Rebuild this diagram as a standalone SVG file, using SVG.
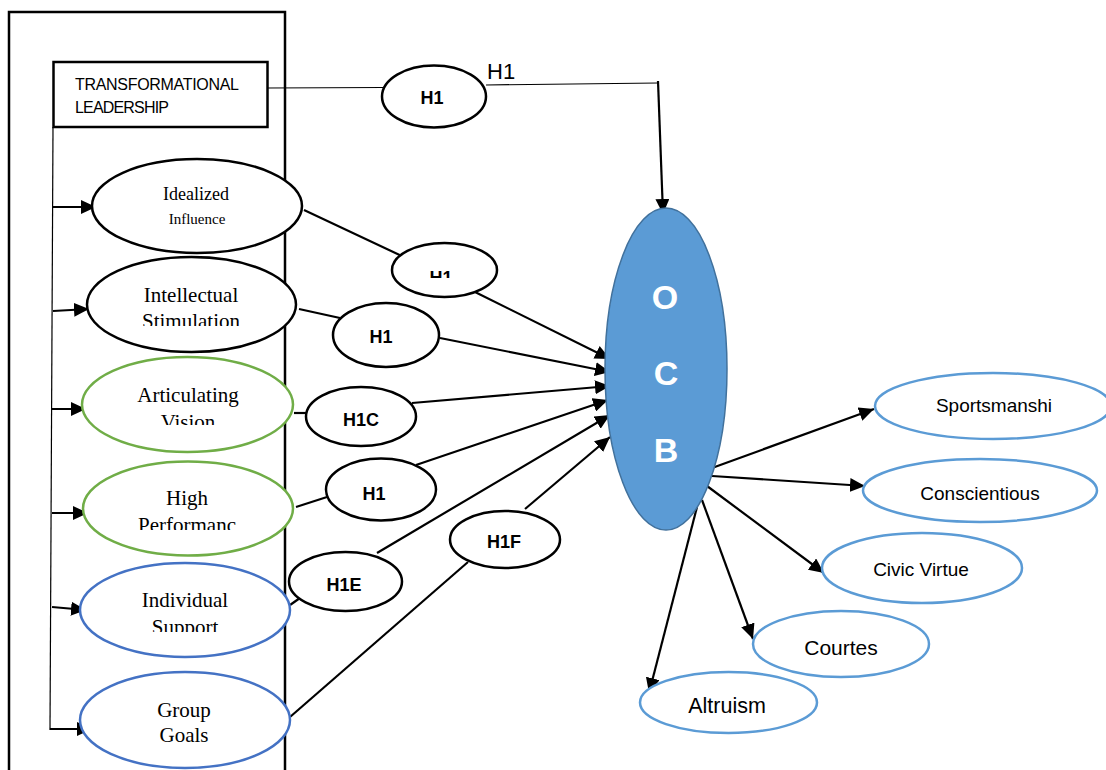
<svg xmlns="http://www.w3.org/2000/svg" width="1106" height="770" viewBox="0 0 1106 770">
<style>
.frame{fill:none;stroke:#000;stroke-width:2.5}
.blk{fill:#fff;stroke:#000;stroke-width:2.5}
.grn{fill:#fff;stroke:#70AD47;stroke-width:2.5}
.blu{fill:#fff;stroke:#4472C4;stroke-width:2.5}
.lbl{fill:#fff;stroke:#5B9BD5;stroke-width:2.5}
.ocb{fill:#5B9BD5;stroke:#41719C;stroke-width:1.5}
.con{fill:none;stroke:#000;stroke-width:2.2}
.thin{fill:none;stroke:#000;stroke-width:1.2}
.ser{font-family:"Liberation Serif","Times New Roman",serif;font-size:21px;fill:#000;text-anchor:middle}
.hyp{font-family:"Liberation Sans",Arial,sans-serif;font-size:18px;font-weight:bold;fill:#000;text-anchor:middle}
.sans{font-family:"Liberation Sans",Arial,sans-serif;fill:#000}
.big{font-family:"Liberation Sans",Arial,sans-serif;font-size:34px;font-weight:bold;fill:#fff;text-anchor:middle}
.rt{font-family:"Liberation Sans",Arial,sans-serif;font-size:19px;fill:#000;text-anchor:middle}
</style>
<defs>
<marker id="ah" markerUnits="userSpaceOnUse" markerWidth="16" markerHeight="14" refX="15" refY="7" orient="auto">
<path d="M0,0 L15,7 L0,14 z" fill="#000"/>
</marker>
<clipPath id="cStim"><rect x="80" y="250" width="230" height="76"/></clipPath>
<clipPath id="cVis"><rect x="80" y="350" width="230" height="75"/></clipPath>
<clipPath id="cPerf"><rect x="80" y="455" width="230" height="75"/></clipPath>
<clipPath id="cSup"><rect x="80" y="555" width="230" height="77"/></clipPath>
<clipPath id="cH1a"><rect x="390" y="240" width="110" height="38"/></clipPath>
</defs>
<rect width="1106" height="770" fill="#fff"/>

<rect id="frame" class="frame" x="9" y="12" width="276" height="800"/>

<g id="connectors">
<line class="thin" x1="267" y1="88" x2="383" y2="87.5"/>
<line class="thin" x1="486" y1="85" x2="658" y2="83"/>
<line class="con" x1="658" y1="81" x2="663" y2="214" marker-end="url(#ah)"/>
<line class="thin" x1="53" y1="127" x2="50" y2="730"/>
<line class="con" x1="53" y1="207" x2="96" y2="207" marker-end="url(#ah)"/>
<line class="con" x1="53" y1="311" x2="89" y2="309" marker-end="url(#ah)"/>
<line class="con" x1="52" y1="409" x2="86" y2="409" marker-end="url(#ah)"/>
<line class="con" x1="52" y1="513" x2="88" y2="513" marker-end="url(#ah)"/>
<line class="con" x1="52" y1="607" x2="86" y2="610" marker-end="url(#ah)"/>
<line class="con" x1="50" y1="729" x2="92" y2="729" marker-end="url(#ah)"/>
<line class="con" x1="304" y1="210" x2="406" y2="258"/>
<line class="con" x1="475" y1="292" x2="610" y2="359" marker-end="url(#ah)"/>
<line class="con" x1="299" y1="309" x2="340" y2="318"/>
<line class="con" x1="440" y1="338" x2="610" y2="372" marker-end="url(#ah)"/>
<line class="con" x1="294" y1="413" x2="306" y2="413"/>
<line class="con" x1="412" y1="403" x2="610" y2="386" marker-end="url(#ah)"/>
<line class="con" x1="296" y1="507" x2="327" y2="497"/>
<line class="con" x1="416" y1="465" x2="608" y2="400" marker-end="url(#ah)"/>
<line class="con" x1="290" y1="605" x2="300" y2="598"/>
<line class="con" x1="377" y1="553" x2="610" y2="415" marker-end="url(#ah)"/>
<line class="con" x1="290" y1="717" x2="468" y2="562"/>
<line class="con" x1="525" y1="509" x2="610" y2="437" marker-end="url(#ah)"/>
<line class="con" x1="712" y1="468" x2="874" y2="409" marker-end="url(#ah)"/>
<line class="con" x1="712" y1="476" x2="865" y2="486" marker-end="url(#ah)"/>
<line class="con" x1="707" y1="486" x2="824" y2="573" marker-end="url(#ah)"/>
<line class="con" x1="702" y1="500" x2="753" y2="639" marker-end="url(#ah)"/>
<line class="con" x1="697" y1="507" x2="649" y2="693" marker-end="url(#ah)"/>
</g>

<g id="tl">
<rect x="53.5" y="62" width="214" height="65" fill="#fff" stroke="#000" stroke-width="2.5"/>
<text class="sans" x="75" y="90" style="font-size:16px" textLength="164">TRANSFORMATIONAL</text>
<text class="sans" x="75" y="113" style="font-size:16px" textLength="94">LEADERSHIP</text>
</g>

<g id="h1top">
<ellipse class="blk" cx="434" cy="96.5" rx="52" ry="31"/>
<text class="hyp" x="432" y="104">H1</text>
</g>
<text id="h1label" class="sans" x="487" y="79" style="font-size:22px">H1</text>

<g id="idealized">
<ellipse class="blk" cx="197" cy="206" rx="105" ry="47"/>
<text class="ser" x="196" y="200" style="font-size:18px">Idealized</text>
<text class="ser" x="197" y="224" style="font-size:15px">Influence</text>
</g>
<g id="intellectual">
<ellipse class="blk" cx="191.5" cy="304.5" rx="104.5" ry="47.5"/>
<g clip-path="url(#cStim)">
<text class="ser" x="191" y="302">Intellectual</text>
<text class="ser" x="191" y="328">Stimulation</text>
</g>
</g>
<g id="articulating">
<ellipse class="grn" cx="187.5" cy="404.5" rx="105.5" ry="47.5"/>
<g clip-path="url(#cVis)">
<text class="ser" x="188" y="402">Articulating</text>
<text class="ser" x="188" y="429">Vision</text>
</g>
</g>
<g id="high">
<ellipse class="grn" cx="188" cy="508.5" rx="105" ry="47"/>
<g clip-path="url(#cPerf)">
<text class="ser" x="187" y="505">High</text>
<text class="ser" x="187" y="532">Performanc</text>
</g>
</g>
<g id="individual">
<ellipse class="blu" cx="185" cy="610" rx="105" ry="47"/>
<g clip-path="url(#cSup)">
<text class="ser" x="185" y="607">Individual</text>
<text class="ser" x="185" y="634">Support</text>
</g>
</g>
<g id="group">
<ellipse class="blu" cx="185" cy="720" rx="105" ry="48"/>
<text class="ser" x="184" y="717">Group</text>
<text class="ser" x="184" y="742">Goals</text>
</g>

<g id="hyp1">
<ellipse class="blk" cx="444.5" cy="270" rx="52.5" ry="27"/>
<text class="hyp" x="441" y="284" clip-path="url(#cH1a)">H1</text>
</g>
<g id="hyp2">
<ellipse class="blk" cx="386" cy="335" rx="53" ry="32"/>
<text class="hyp" x="381" y="343">H1</text>
</g>
<g id="hyp3">
<ellipse class="blk" cx="361" cy="416.5" rx="55" ry="29.5"/>
<text class="hyp" x="361" y="426">H1C</text>
</g>
<g id="hyp4">
<ellipse class="blk" cx="381" cy="489.5" rx="55" ry="31"/>
<text class="hyp" x="374" y="500">H1</text>
</g>
<g id="hyp5">
<ellipse class="blk" cx="345.5" cy="581.5" rx="56.5" ry="29.5"/>
<text class="hyp" x="344" y="591">H1E</text>
</g>
<g id="hyp6">
<ellipse class="blk" cx="505" cy="539.5" rx="55" ry="28.5"/>
<text class="hyp" x="504" y="548">H1F</text>
</g>

<g id="ocb">
<ellipse class="ocb" cx="666" cy="369" rx="61" ry="161"/>
<text class="big" x="665" y="309">O</text>
<text class="big" x="666" y="385">C</text>
<text class="big" x="666" y="462">B</text>
</g>

<g id="sportsmanship">
<ellipse class="lbl" cx="993" cy="406" rx="118" ry="33"/>
<text class="rt" x="994" y="412">Sportsmanshi</text>
</g>
<g id="conscientious">
<ellipse class="lbl" cx="980" cy="490.5" rx="117" ry="31.5"/>
<text class="rt" x="980" y="500">Conscientious</text>
</g>
<g id="civic">
<ellipse class="lbl" cx="922" cy="568" rx="100" ry="35"/>
<text class="rt" x="921" y="576">Civic Virtue</text>
</g>
<g id="courtes">
<ellipse class="lbl" cx="841" cy="644" rx="88" ry="33"/>
<text class="rt" x="841" y="655" style="font-size:21px">Courtes</text>
</g>
<g id="altruism">
<ellipse class="lbl" cx="728.5" cy="702.5" rx="88.5" ry="30.5"/>
<text class="rt" x="727" y="713" style="font-size:21.5px">Altruism</text>
</g>
</svg>
